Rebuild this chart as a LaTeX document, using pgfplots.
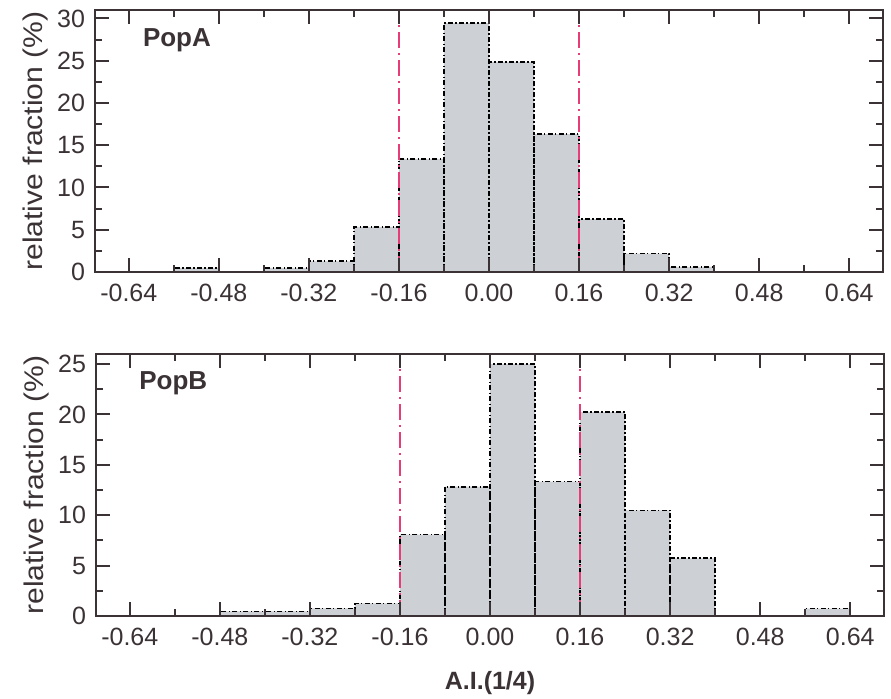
\documentclass[border=0pt]{standalone}
\usepackage{pgfplots}
\pgfplotsset{compat=1.18}
\usepackage{fontspec}
\setmainfont{Liberation Sans}
\definecolor{barfill}{RGB}{205,208,212}
\definecolor{framec}{RGB}{58,50,52}
\definecolor{redl}{RGB}{232,60,120}
\pgfplotsset{
  histax/.style={
    scale only axis, width=394bp, height=131bp,
    xmin=-0.70, xmax=0.70, ymin=0,
    axis line style={framec, line width=1bp},
    every tick/.style={framec, line width=1bp},
    major tick length=7bp, minor tick length=3.5bp,
    tick align=inside,
    xtick={-0.64,-0.48,-0.32,-0.16,0,0.16,0.32,0.48,0.64},
    xticklabels={-0.64,-0.48,-0.32,-0.16,0.00,0.16,0.32,0.48,0.64},
    minor x tick num=1,
    minor y tick num=1,
    /pgf/number format/assume math mode=true,
    tick label style={font=\fontsize{12.5bp}{14bp}\selectfont, text=framec},
    xticklabel shift=2.5bp,
    yticklabel shift=1.5bp,
    ylabel={\scalebox{1.115}[1]{relative fraction (\%)}},
    every axis y label/.style={at={(axis description cs:-0.076,0.5)}, rotate=90, anchor=center,
      font=\fontsize{13.5bp}{16bp}\selectfont, text=framec},
    axis on top,
  },
  barsty/.style={ybar interval, fill=barfill, draw=black, line width=0.8bp,
    dash pattern=on 2.5bp off 1.2bp on 0.6bp off 1.2bp},
  redsty/.style={redl, line width=1.1bp, dash pattern=on 8bp off 2.5bp on 1bp off 2.5bp},
}
\begin{document}
\begin{tikzpicture}
\useasboundingbox (-47.5bp,5bp) rectangle (398bp,-344.5bp);
\begin{axis}[histax, at={(0,0)}, anchor=north west, ymax=31,
  ytick={0,5,10,15,20,25,30}]
\addplot[barsty] coordinates {(-0.56,0.5) (-0.48,0) (-0.40,0.5) (-0.32,1.27) (-0.24,5.35) (-0.16,13.4) (-0.08,29.45) (0,24.85) (0.08,16.3) (0.16,6.26) (0.24,2.18) (0.32,0.6) (0.40,0)};
\addplot[redsty] coordinates {(-0.16,0) (-0.16,31)};
\addplot[redsty] coordinates {(0.16,0) (0.16,31)};
\node[anchor=west, font=\fontsize{13bp}{15bp}\selectfont\bfseries, text=framec] at (axis description cs:0.052,0.885) {PopA};
\end{axis}
\begin{axis}[histax, at={(0.5bp,-172bp)}, anchor=north west, ymax=26,
  ytick={0,5,10,15,20,25},
  xlabel={A.I.(1/4)},
  every axis x label/.style={at={(axis description cs:0.5,-0.255)}, anchor=center,
    font=\fontsize{12.5bp}{15bp}\selectfont\bfseries, text=framec}]
\addplot[barsty] coordinates {(-0.48,0.45) (-0.40,0.45) (-0.32,0.75) (-0.24,1.25) (-0.16,8.07) (-0.08,12.83) (0,25.0) (0.08,13.33) (0.16,20.23) (0.24,10.47) (0.32,5.73) (0.40,0) (0.48,0) (0.56,0.73) (0.64,0)};
\addplot[redsty] coordinates {(-0.16,0) (-0.16,26)};
\addplot[redsty] coordinates {(0.16,0) (0.16,26)};
\node[anchor=west, font=\fontsize{13bp}{15bp}\selectfont\bfseries, text=framec] at (axis description cs:0.046,0.889) {PopB};
\end{axis}
\end{tikzpicture}
\end{document}
